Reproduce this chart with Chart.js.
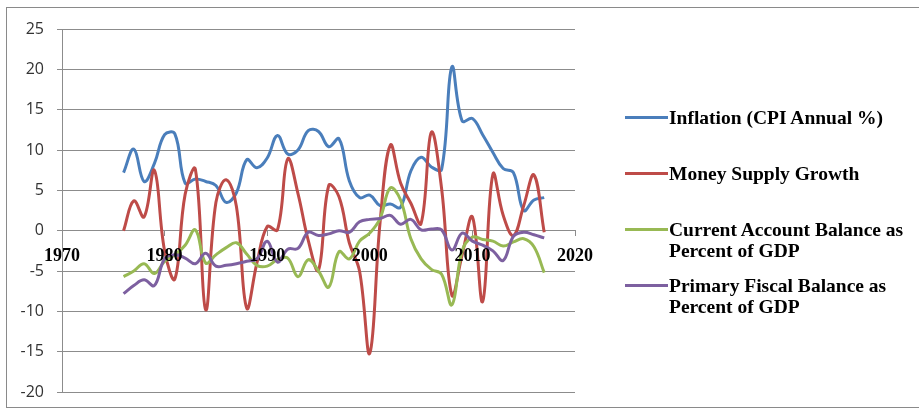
<!DOCTYPE html>
<html>
<head>
<meta charset="utf-8">
<script src="https://cdn.jsdelivr.net/npm/chart.js@4.4.1/dist/chart.umd.min.js"></script>
<style>
html,body{margin:0;padding:0;background:#fff;}
#wrap{position:relative;width:919px;height:411px;overflow:hidden;background:#fff;}
#frame{position:absolute;left:6px;top:7px;width:960px;height:401px;border:1px solid #8a8a8a;box-sizing:border-box;}
#c{position:absolute;left:0;top:0;}
#legend{position:absolute;left:625px;top:0;width:294px;height:411px;font-family:"Liberation Serif","Times New Roman",serif;font-weight:bold;font-size:19.5px;color:#000;}
.item{position:absolute;left:0;white-space:nowrap;}
.swatch{position:absolute;left:0;width:43px;height:3px;}
.txt{position:absolute;left:44px;line-height:21px;}
</style>
</head>
<body>
<div id="wrap">
  <div id="frame"></div>
  <canvas id="c" width="919" height="411"></canvas>
  <div id="legend"></div>
</div>
<script>
const years = [1976,1977,1978,1979,1980,1981,1982,1983,1984,1985,1986,1987,1988,1989,1990,1991,1992,1993,1994,1995,1996,1997,1998,1999,2000,2001,2002,2003,2004,2005,2006,2007,2008,2009,2010,2011,2012,2013,2014,2015,2016,2017];

const inflation = [7.2,10.1,6.1,8.3,11.9,12.0,5.9,6.4,6.1,5.6,3.5,4.7,8.8,7.8,9.0,11.8,9.5,10.0,12.4,12.3,10.4,11.4,6.2,4.1,4.4,3.1,3.3,2.9,7.4,9.1,7.9,7.6,20.3,13.6,13.9,11.9,9.7,7.7,7.2,2.5,3.8,4.1];

const moneySupply = [0.0,3.7,1.7,7.5,-2.5,-6.0,4.5,7.6,-9.8,3.5,6.3,3.0,-9.6,-4.0,0.5,0.1,8.9,4.6,-1.2,-4.9,5.6,4.2,-1.5,-5.0,-15.2,1.0,10.6,5.9,3.4,0.9,12.2,5.2,-8.0,-3.0,1.7,-8.8,7.0,1.9,-0.6,3.1,6.9,-0.2];

const currentAccount = [-5.7,-5.0,-4.1,-5.3,-3.8,-3.0,-1.8,0.1,-4.0,-3.0,-2.1,-1.5,-2.9,-4.3,-4.4,-3.6,-3.4,-5.7,-3.6,-5.0,-7.0,-2.6,-3.5,-1.3,-0.3,1.5,5.3,3.8,-1.0,-3.5,-4.8,-5.4,-9.2,-2.5,-0.8,-1.1,-1.3,-1.9,-1.4,-1.0,-2.0,-5.2];

const primaryFiscal = [-7.8,-6.8,-6.1,-6.8,-3.5,-3.0,-3.4,-4.1,-2.8,-4.4,-4.3,-4.1,-3.8,-3.5,-1.3,-3.9,-2.3,-2.2,-0.2,-0.6,-0.4,0.0,-0.2,1.1,1.4,1.5,1.9,0.8,1.4,0.1,0.2,0.1,-2.4,-0.3,-1.3,-1.8,-2.5,-3.7,-0.7,-0.2,-0.5,-0.9];

const seriesNames = ['Inflation (CPI Annual %)','Money Supply Growth','Current Account Balance as Percent of GDP','Primary Fiscal Balance as Percent of GDP'];
const legendLines = [['Inflation (CPI Annual %)'],['Money Supply Growth'],['Current Account Balance as','Percent of GDP'],['Primary Fiscal Balance as','Percent of GDP']];
const xTickValues = [1970,1980,1990,2000,2010,2020];
const yTickValues = [-20,-15,-10,-5,0,5,10,15,20,25];

const seriesValues = [inflation, moneySupply, currentAccount, primaryFiscal];
const seriesColors = ['#4A7EBB','#BE4B48','#98B954','#7D60A0'];
const legendRowCenters = [117.5, 173.3, 229.3, 285];

// HTML legend
const legend = document.getElementById('legend');
legendLines.forEach((lines, i) => {
  const item = document.createElement('div');
  item.className = 'item';
  item.style.top = (legendRowCenters[i] - 10.5) + 'px';
  const sw = document.createElement('div');
  sw.className = 'swatch';
  sw.style.background = seriesColors[i];
  sw.style.top = '9px';
  const tx = document.createElement('div');
  tx.className = 'txt';
  tx.innerHTML = lines.join('<br>');
  item.appendChild(sw);
  item.appendChild(tx);
  legend.appendChild(item);
});

const gridColor = '#8c8c8c';

new Chart(document.getElementById('c'), {
  type: 'line',
  data: {
    datasets: seriesValues.map((vals, i) => ({
      label: seriesNames[i],
      data: years.map((yr, j) => ({x: yr, y: vals[j]})),
      borderColor: seriesColors[i],
      backgroundColor: seriesColors[i],
      borderWidth: 3,
      pointRadius: 0,
      tension: 0.4,
      fill: false,
      order: seriesValues.length - i
    }))
  },
  options: {
    responsive: false,
    animation: false,
    devicePixelRatio: 1,
    layout: {padding: {left: 0, top: 29, right: 344, bottom: 19}},
    plugins: {legend: {display: false}, tooltip: {enabled: false}},
    scales: {
      x: {
        type: 'linear',
        min: 1970,
        max: 2020,
        position: {y: 0},
        afterBuildTicks: s => { s.ticks = xTickValues.map(v => ({value: v})); },
        ticks: {
          z: 1,
          font: {family: '"Liberation Serif", serif', weight: 'bold', size: 18},
          color: '#000',
          padding: 10,
          maxRotation: 0,
          autoSkip: false,
          callback: v => String(v)
        },
        grid: {drawOnChartArea: false, drawTicks: true, tickLength: 5, color: gridColor},
        border: {display: true, color: gridColor}
      },
      y: {
        min: -20,
        max: 25,
        afterBuildTicks: s => { s.ticks = yTickValues.map(v => ({value: v})); },
        afterFit: s => { s.width = 62; s.paddingTop = 0; s.paddingBottom = 0; },
        ticks: {
          font: {family: '"Open Sans", sans-serif', size: 16},
          color: '#333',
          padding: 13
        },
        grid: {color: gridColor, tickLength: 5},
        border: {color: gridColor}
      }
    }
  }
});
</script>
</body>
</html>
